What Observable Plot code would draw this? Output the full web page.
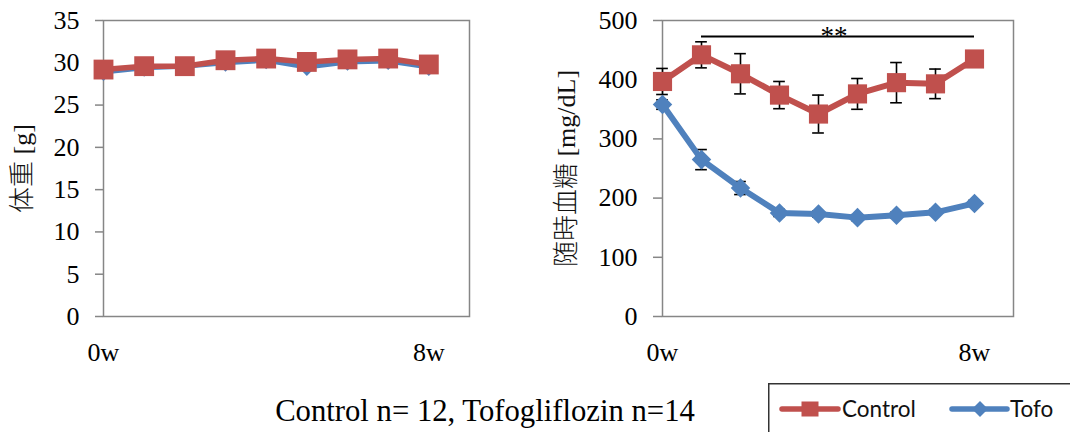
<!DOCTYPE html>
<html>
<head>
<meta charset="utf-8">
<script src="https://cdn.jsdelivr.net/npm/d3@7"></script>
<script src="https://cdn.jsdelivr.net/npm/@observablehq/plot@0.6"></script>
<style>
  html, body { margin: 0; padding: 0; background: #fff; }
  #page { position: relative; width: 1070px; height: 432px; overflow: hidden; background: #fff; }
  .chart { position: absolute; top: 0; }
  #caption { position: absolute; left: 0; width: 970px; top: 396px; text-align: center;
             font-family: "Liberation Serif", serif; font-size: 30.7px; line-height: 30px; color: #000; white-space: nowrap; }
  #legend { position: absolute; left: 768px; top: 383px; }
</style>
</head>
<body>
<div id="page">
  <div id="left" class="chart" style="left:0px"></div>
  <div id="right" class="chart" style="left:540px"></div>
  <div id="caption"></div>
  <svg id="legend" width="310" height="60"></svg>
</div>
<script>
// ---- data ----
const weeks = [0, 1, 2, 3, 4, 5, 6, 7, 8];
const xTickWeeks = [0, 8];
const xTickLabels = ["0w", "8w"];
const seriesNames = ["Control", "Tofo"];
const seriesColors = ["#C0504D", "#4F81BD"];

const bodyWeightControl = [29.2, 29.6, 29.6, 30.3, 30.5, 30.1, 30.4, 30.5, 29.8];
const bodyWeightTofo    = [28.9, 29.4, 29.6, 30.0, 30.3, 29.5, 30.1, 30.2, 29.5];

const glucoseControl    = [397, 442, 410, 374, 342, 376, 395, 393, 435];
const glucoseControlErr = [22, 22, 34, 23, 32, 26, 34, 25, 8];
const glucoseTofo       = [358, 265, 217, 175, 173, 167, 171, 176, 191];
const glucoseTofoErr    = [8, 17, 11, 6, 5, 5, 5, 5, 5];

const bwTicks = [0, 5, 10, 15, 20, 25, 30, 35];
const bgTicks = [0, 100, 200, 300, 400, 500];
const yLabels = ["体重 [g]", "随時血糖 [mg/dL]"];
const sigBar = {from: 1, to: 8, y: 473, label: "**", labelWeek: 4.4};
const captionText = "Control n= 12, Tofogliflozin n=14";

// ---- build tables ----
const rows = (vals, errs) => weeks.map((w, i) => ({week: w, value: vals[i], err: errs ? errs[i] : 0}));
const bwC = rows(bodyWeightControl), bwT = rows(bodyWeightTofo);
const bgC = rows(glucoseControl, glucoseControlErr), bgT = rows(glucoseTofo, glucoseTofoErr);

const frameColor = "#868686";
const serif = "'Liberation Serif', 'Noto Sans CJK JP', serif";

function xAxis() {
  return Plot.axisX(xTickWeeks, {tickSize: 0, tickPadding: 26, fontSize: 26, label: null,
    tickFormat: d => xTickLabels[xTickWeeks.indexOf(d)]});
}
function yLabel(text, dx) {
  return Plot.text([text], {frameAnchor: "left", textAnchor: "middle", dx, rotate: -90, fontSize: 26,
    fontFamily: serif, fontWeight: 300, fill: "#111"});
}
function errorBars(data) {
  return [
    Plot.ruleX(data, {x: "week", y1: d => d.value - d.err, y2: d => d.value + d.err, stroke: "#000", strokeWidth: 1.6}),
    Plot.ruleY(data, {y: d => d.value + d.err, x1: d => d.week - 0.15, x2: d => d.week + 0.15, stroke: "#000", strokeWidth: 1.6}),
    Plot.ruleY(data, {y: d => d.value - d.err, x1: d => d.week - 0.15, x2: d => d.week + 0.15, stroke: "#000", strokeWidth: 1.6})
  ];
}

const left = Plot.plot({
  width: 500, height: 380,
  marginLeft: 103, marginRight: 31, marginTop: 20, marginBottom: 64,
  style: {fontFamily: serif, fontSize: "26px", color: "#000", background: "#fff", overflow: "visible"},
  x: {domain: [0, 9]},
  y: {domain: [0, 35]},
  marks: [
    Plot.frame({stroke: frameColor, strokeWidth: 1.5}),
    Plot.axisY(bwTicks, {tickSize: 8, tickPadding: 16, stroke: frameColor, strokeWidth: 1.5, fontSize: 26, label: null}),
    xAxis(),
    yLabel(yLabels[0], -81),
    Plot.line(bwT, {x: "week", y: "value", stroke: seriesColors[1], strokeWidth: 5}),
    Plot.dot(bwT, {x: "week", y: "value", symbol: "diamond2", r: 8, fill: seriesColors[1]}),
    Plot.line(bwC, {x: "week", y: "value", stroke: seriesColors[0], strokeWidth: 5.5}),
    Plot.dot(bwC, {x: "week", y: "value", symbol: "square", r: 11.2, fill: seriesColors[0]})
  ]
});
document.getElementById("left").append(left);

const right = Plot.plot({
  width: 500, height: 380,
  marginLeft: 122, marginRight: 27, marginTop: 20, marginBottom: 64,
  style: {fontFamily: serif, fontSize: "26px", color: "#000", background: "#fff", overflow: "visible"},
  x: {domain: [0, 9]},
  y: {domain: [0, 500]},
  marks: [
    Plot.frame({stroke: frameColor, strokeWidth: 1.5}),
    Plot.axisY(bgTicks, {tickSize: 9, tickPadding: 16, stroke: frameColor, strokeWidth: 1.5, fontSize: 26, label: null}),
    xAxis(),
    yLabel(yLabels[1], -96),
    ...errorBars(bgC),
    ...errorBars(bgT),
    Plot.line(bgC, {x: "week", y: "value", stroke: seriesColors[0], strokeWidth: 6}),
    Plot.dot(bgC, {x: "week", y: "value", symbol: "square", r: 10.8, fill: seriesColors[0]}),
    Plot.line(bgT, {x: "week", y: "value", stroke: seriesColors[1], strokeWidth: 6}),
    Plot.dot(bgT, {x: "week", y: "value", symbol: "diamond2", r: 8.8, fill: seriesColors[1]}),
    Plot.ruleY([sigBar], {y: "y", x1: "from", x2: "to", stroke: "#000", strokeWidth: 2.2}),
    Plot.text([sigBar], {x: "labelWeek", y: "y", text: "label", fontSize: 27, fontFamily: serif, fill: "#000"})
  ]
});
document.getElementById("right").append(right);

document.getElementById("caption").textContent = captionText;

// ---- legend ----
const lg = d3.select("#legend");
lg.append("rect").attr("x", 0.75).attr("y", 0.75).attr("width", 330).attr("height", 80)
  .attr("fill", "#fff").attr("stroke", "#333").attr("stroke-width", 1.5);
const items = [
  {x0: 14, x1: 70, cx: 42, text: 74},
  {x0: 184, x1: 239, cx: 212, text: 242}
];
items.forEach((it, i) => {
  const g = lg.append("g");
  g.append("line").attr("x1", it.x0).attr("x2", it.x1).attr("y1", 26).attr("y2", 26)
    .attr("stroke", seriesColors[i]).attr("stroke-width", 5.5).attr("stroke-linecap", "round");
  if (i === 0) {
    g.append("rect").attr("x", it.cx - 8.5).attr("y", 18.5).attr("width", 17).attr("height", 15).attr("fill", seriesColors[i]);
  } else {
    g.append("path").attr("d", `M${it.cx},${26 - 8}L${it.cx + 8},26L${it.cx},${26 + 8}L${it.cx - 8},26Z`).attr("fill", seriesColors[i]);
  }
  g.append("text").attr("x", it.text).attr("y", 34).attr("font-family", "Lato, 'Open Sans', sans-serif")
    .attr("font-size", 22.5).attr("fill", "#111").text(seriesNames[i]);
});
</script>
</body>
</html>
